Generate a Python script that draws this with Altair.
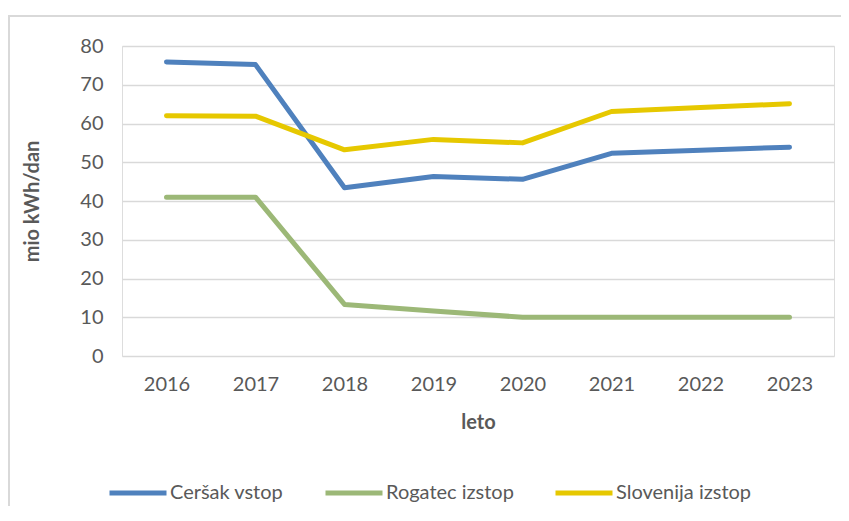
import altair as alt
import pandas as pd

years = ["2016", "2017", "2018", "2019", "2020", "2021", "2022", "2023"]
series_names = ["Ceršak vstop", "Rogatec izstop", "Slovenija izstop"]
cersak = [75.9, 75.2, 43.4, 46.3, 45.6, 52.3, 53.1, 53.9]
rogatec = [41.0, 41.0, 13.3, 11.6, 10.0, 10.0, 10.0, 10.0]
slovenija = [62.0, 61.9, 53.2, 55.9, 55.0, 63.1, 64.1, 65.1]
colors = ["#4F81BD", "#9CB877", "#E6C800"]

rows = []
for name, vals in zip(series_names, [cersak, rogatec, slovenija]):
    for y, v in zip(years, vals):
        rows.append({"leto": y, "serija": name, "vrednost": v})
df = pd.DataFrame(rows)

FONT = "Lato"
TXT = "#595959"

lines = alt.Chart(df).mark_line(strokeWidth=5, strokeCap="round", strokeJoin="round").encode(
    x=alt.X("leto:O", sort=years, scale=alt.Scale(type="point", padding=0.5),
            axis=alt.Axis(title="leto", labelAngle=0, domain=False, ticks=False, grid=False,
                          labelPadding=18, labelFontSize=20, labelColor=TXT, labelFont=FONT,
                          titleFontSize=20, titleFont=FONT, titleColor=TXT, titleFontWeight="bold",
                          titleX=356, titleY=66, titleBaseline="middle", titleAlign="center")),
    y=alt.Y("vrednost:Q", scale=alt.Scale(domain=[0, 80], nice=False),
            axis=alt.Axis(title="mio kWh/dan", values=[0, 10, 20, 30, 40, 50, 60, 70, 80],
                          domain=False, ticks=False, gridColor="#D9D9D9", gridWidth=1.3,
                          labelPadding=19, labelFontSize=20, labelColor=TXT, labelFont=FONT,
                          titleFontSize=20, titleFont=FONT, titleColor=TXT, titleFontWeight="bold",
                          titleAngle=270, titleX=-90, titleY=155, titleBaseline="middle",
                          titleAlign="center")),
    color=alt.Color("serija:N", sort=series_names,
                    scale=alt.Scale(domain=series_names, range=colors),
                    legend=alt.Legend(title=None, orient="none", direction="horizontal",
                                      legendX=-15, legendY=416, symbolType="stroke",
                                      symbolSize=3249, symbolStrokeWidth=5, labelOffset=1,
                                      columnPadding=31, labelFontSize=20, labelFont=FONT,
                                      labelColor=TXT, symbolOpacity=1)),
)

frame_top = alt.Chart(df).mark_rule(color="#D9D9D9", strokeWidth=1.5).encode(
    x=alt.value(-116), x2=alt.value(720), y=alt.value(-30))
frame_left = alt.Chart(df).mark_rule(color="#D9D9D9", strokeWidth=1.5).encode(
    x=alt.value(-113), y=alt.value(-30), y2=alt.value(470))

chart = alt.layer(frame_top, frame_left, lines).properties(
    width=712, height=310,
    autosize=alt.AutoSizeParams(type="none"),
    padding={"left": 114, "top": 38, "right": 7, "bottom": 150},
).configure_view(stroke=None).configure(font=FONT)

chart.save("out.html", embed_options={"renderer": "svg", "actions": False})
